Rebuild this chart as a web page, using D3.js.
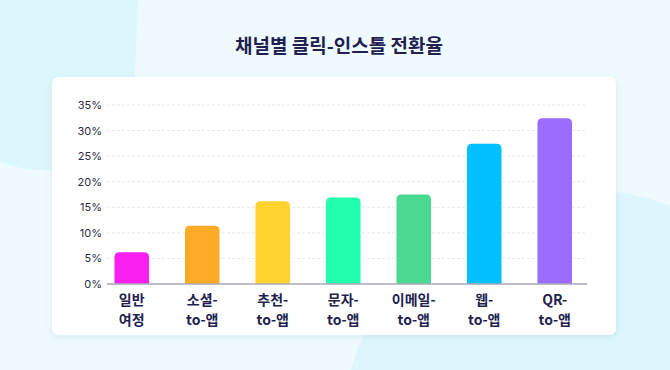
<!DOCTYPE html>
<html>
<head>
<meta charset="utf-8">
<script src="https://cdn.jsdelivr.net/npm/d3@7/dist/d3.min.js"></script>
<style>
  html, body { margin: 0; padding: 0; }
  body { width: 670px; height: 370px; overflow: hidden; background: #eefafe; }
</style>
</head>
<body>
<script>
// chart data
const channels = [['일반', '여정'], ['소셜-', 'to-앱'], ['추천-', 'to-앱'], ['문자-', 'to-앱'], ['이메일-', 'to-앱'], ['웹-', 'to-앱'], ['QR-', 'to-앱']];
const rates = [6.2, 11.4, 16.2, 16.9, 17.5, 27.4, 32.4];
const barColors = ['#f91ff1', '#fdab27', '#ffd22e', '#1fffae', '#4bd992', '#00c0ff', '#9c6bff'];
const yTicks = [0, 5, 10, 15, 20, 25, 30, 35];
const title = '채널별 클릭-인스톨 전환율';

const W = 670, H = 370;
const plot = { left: 107, right: 587, top: 105, bottom: 284 };

const svg = d3.select('body').append('svg')
  .attr('width', W)
  .attr('height', H);

// background blobs
svg.append('rect').attr('width', W).attr('height', H).attr('fill', '#eefafe');
svg.append('path')
  .attr('d', 'M0,0 L138,0 L134,95 Q128,160 60,170 Q25,172 0,162 Z')
  .attr('fill', '#dcf6fd');
svg.append('circle')
  .attr('cx', 585).attr('cy', 432).attr('r', 242)
  .attr('fill', '#ddf5fc');

// title
svg.append('text')
  .attr('x', 339).attr('y', 53)
  .attr('text-anchor', 'middle')
  .style('font-family', '"Noto Sans CJK KR", sans-serif')
  .style('font-weight', 700)
  .style('font-size', '19px')
  .attr('fill', '#221f50')
  .text(title);

// card
const defs = svg.append('defs');
const f = defs.append('filter').attr('id', 'shadow').attr('x', '-10%').attr('y', '-10%').attr('width', '120%').attr('height', '130%');
f.append('feDropShadow').attr('dx', 0).attr('dy', 2).attr('stdDeviation', 3)
  .attr('flood-color', '#6aa6c0').attr('flood-opacity', 0.18);
svg.append('rect')
  .attr('x', 52).attr('y', 77).attr('width', 564).attr('height', 258)
  .attr('rx', 7)
  .attr('fill', '#ffffff')
  .attr('filter', 'url(#shadow)');

// scales
const x = d3.scaleBand()
  .domain(d3.range(channels.length))
  .range([96.5, 590])
  .paddingInner(0.51)
  .paddingOuter(0.255);
const y = d3.scaleLinear().domain([0, 35]).range([plot.bottom, plot.top]);

// grid lines
svg.append('g').selectAll('line')
  .data(yTicks.filter(d => d > 0))
  .join('line')
  .attr('x1', plot.left).attr('x2', plot.right)
  .attr('y1', d => y(d)).attr('y2', d => y(d))
  .attr('stroke', '#e6e8f0')
  .attr('stroke-width', 1)
  .attr('stroke-dasharray', '3,2');

// y axis labels
const yAxis = d3.axisLeft(y).tickValues(yTicks).tickFormat(d => d + '%').tickSize(0).tickPadding(5);
svg.append('g')
  .attr('transform', 'translate(' + plot.left + ',0)')
  .call(yAxis)
  .call(g => g.select('.domain').remove())
  .selectAll('text')
  .style('font-family', 'Inter, sans-serif')
  .style('font-size', '11px')
  .attr('fill', '#2c2a48');

// bars with rounded tops
function barPath(d, i) {
  const x0 = x(i), w = x.bandwidth();
  const y0 = y(d), y1 = y(0);
  const r = Math.min(5, (y1 - y0) / 2);
  return 'M' + x0 + ',' + y1 +
    'V' + (y0 + r) +
    'Q' + x0 + ',' + y0 + ' ' + (x0 + r) + ',' + y0 +
    'H' + (x0 + w - r) +
    'Q' + (x0 + w) + ',' + y0 + ' ' + (x0 + w) + ',' + (y0 + r) +
    'V' + y1 + 'Z';
}
svg.append('g').selectAll('path')
  .data(rates)
  .join('path')
  .attr('d', barPath)
  .attr('fill', (d, i) => barColors[i]);

// baseline
svg.append('line')
  .attr('x1', plot.left).attr('x2', plot.right)
  .attr('y1', y(0)).attr('y2', y(0))
  .attr('stroke', '#a9a9b4')
  .attr('stroke-width', 1.5);

// x labels
const xl = svg.append('g').selectAll('text')
  .data(channels)
  .join('text')
  .attr('text-anchor', 'middle')
  .style('font-family', '"Noto Sans CJK KR", sans-serif')
  .style('font-weight', 700)
  .style('font-size', '14px')
  .attr('fill', '#221f50');
xl.each(function(d, i) {
  const t = d3.select(this);
  const cx = x(i) + x.bandwidth() / 2;
  d.forEach((line, j) => {
    t.append('tspan').attr('x', cx).attr('y', 305 + j * 19.5).text(line);
  });
});
</script>
</body>
</html>
